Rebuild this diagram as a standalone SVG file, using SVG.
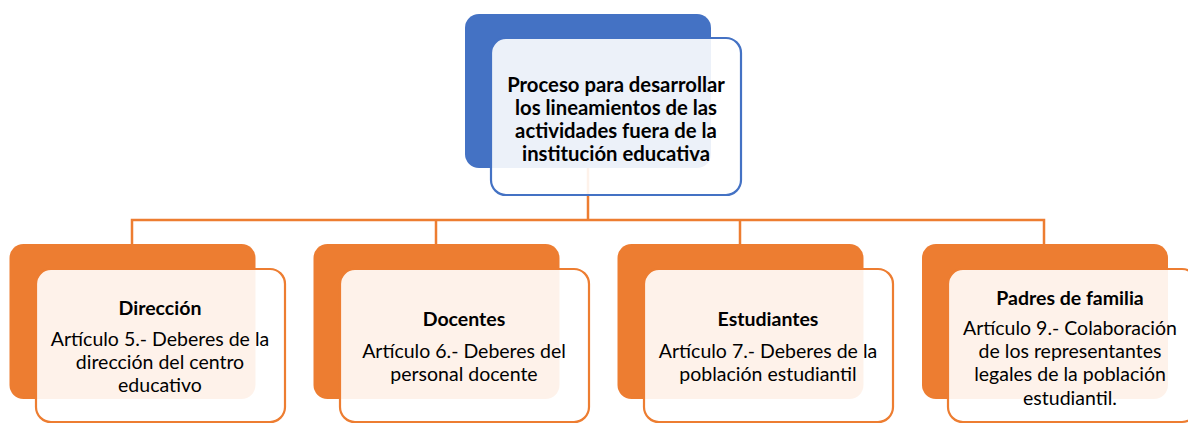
<svg xmlns="http://www.w3.org/2000/svg" width="1188" height="424" viewBox="0 0 1188 424">
<style>
.bg{fill:#fff}
.conn{fill:none;stroke:#ED7D31;stroke-width:2.5}
.backB{fill:#4472C4}
.frontB{fill:#fff;fill-opacity:0.9;stroke:#4472C4;stroke-width:2.2}
.backO{fill:#ED7D31}
.frontO{fill:#fff;fill-opacity:0.9;stroke:#ED7D31;stroke-width:2.2}
text{font-family:Lato,"Liberation Sans",sans-serif;fill:#000;text-anchor:middle}
.t{font-size:20.3px;font-weight:bold}
.h{font-size:19.5px;font-weight:bold}
.b{font-size:19.5px}
</style>
<rect class="bg" x="0" y="0" width="1188" height="424"/>
<g id="connectors">
<path class="conn" d="M588 168V220M132 244V220H1044V244M436 220V244M740 220V244"/>
</g>
<g id="node-proceso">
<rect class="backB" x="465" y="14" width="246" height="154" rx="14"/>
<rect class="frontB" x="491" y="38" width="250" height="157" rx="15"/>
<text class="t"><tspan x="616" y="92">Proceso para desarrollar</tspan><tspan x="616" y="115">los lineamientos de las</tspan><tspan x="616" y="138">actividades fuera de la</tspan><tspan x="616" y="161">institución educativa</tspan></text>
</g>
<g id="node-direccion">
<rect class="backO" x="9.5" y="244" width="246" height="155" rx="14"/>
<rect class="frontO" x="36" y="269" width="249" height="153" rx="15"/>
<text class="h" x="160" y="315">Dirección</text>
<text class="b"><tspan x="160" y="346">Artículo 5.- Deberes de la</tspan><tspan x="160" y="369">dirección del centro</tspan><tspan x="160" y="392">educativo</tspan></text>
</g>
<g id="node-docentes">
<rect class="backO" x="313.5" y="244" width="246" height="155" rx="14"/>
<rect class="frontO" x="340" y="269" width="249" height="153" rx="15"/>
<text class="h" x="464" y="326">Docentes</text>
<text class="b"><tspan x="464" y="358">Artículo 6.- Deberes del</tspan><tspan x="464" y="381">personal docente</tspan></text>
</g>
<g id="node-estudiantes">
<rect class="backO" x="617.5" y="244" width="246" height="155" rx="14"/>
<rect class="frontO" x="644" y="269" width="249" height="153" rx="15"/>
<text class="h" x="768" y="326">Estudiantes</text>
<text class="b"><tspan x="768" y="358">Artículo 7.- Deberes de la</tspan><tspan x="768" y="381">población estudiantil</tspan></text>
</g>
<g id="node-padres">
<rect class="backO" x="922" y="244" width="246" height="155" rx="14"/>
<rect class="frontO" x="948" y="269" width="249" height="153" rx="15"/>
<text class="h" x="1070" y="305">Padres de familia</text>
<text class="b"><tspan x="1070" y="335">Artículo 9.- Colaboración</tspan><tspan x="1070" y="358">de los representantes</tspan><tspan x="1070" y="381">legales de la población</tspan><tspan x="1070" y="405">estudiantil.</tspan></text>
</g>
</svg>
